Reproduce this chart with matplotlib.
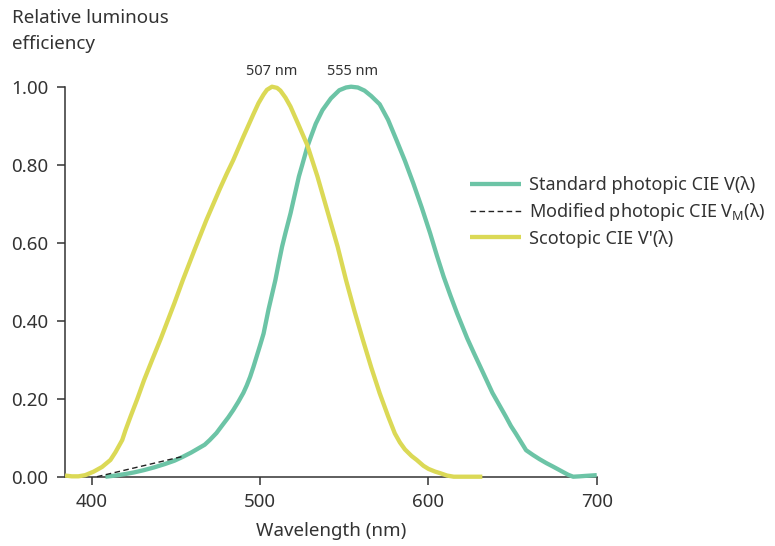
import matplotlib.pyplot as plt

plt.rcParams['font.family'] = ['Noto Sans', 'DejaVu Sans']

# CIE curves
wl_scotopic = [384, 388, 392, 396, 401, 406, 411, 414, 418, 420, 423, 427, 431,
               436, 441, 445, 449, 454, 461, 468, 476, 480, 484, 490, 496, 499,
               502, 504, 507, 510, 512, 515, 518, 523, 528, 534, 540, 546, 551,
               556, 561, 566, 571, 576, 580, 583, 586, 590, 593, 597, 600, 604,
               607, 611, 615, 632]
v_scotopic = [0.003, 0.001, 0.001, 0.004, 0.013, 0.025, 0.043, 0.063, 0.094, 0.12,
              0.155, 0.2, 0.248, 0.302, 0.355, 0.4, 0.445, 0.504, 0.582, 0.658,
              0.738, 0.776, 0.812, 0.872, 0.93, 0.958, 0.98, 0.992, 1.0, 0.997,
              0.99, 0.972, 0.949, 0.9, 0.85, 0.77, 0.68, 0.59, 0.504, 0.425, 0.351,
              0.28, 0.214, 0.155, 0.111, 0.088, 0.07, 0.053, 0.043, 0.028, 0.02,
              0.013, 0.009, 0.003, 0.0, 0.0]

wl_photopic = [408, 414, 420, 425, 431, 437, 443, 449, 454, 459, 463, 467, 470,
               474, 478, 481, 484, 487, 490, 492, 494, 496, 498, 500, 502, 505,
               507, 509, 511, 513, 515, 518, 520, 523, 525, 528, 530, 533, 537,
               542, 547, 551, 554, 558, 562, 566, 571, 576, 581, 586, 591, 596,
               601, 605, 609, 613, 617, 620, 623, 627, 631, 638, 646, 649, 652,
               655, 658, 662, 666, 670, 674, 677, 680, 683, 686, 690, 693, 700]
v_photopic = [0.0, 0.003, 0.007, 0.011, 0.017, 0.024, 0.032, 0.041, 0.051, 0.062,
              0.072, 0.082, 0.094, 0.112, 0.135, 0.152, 0.171, 0.192, 0.215,
              0.234, 0.256, 0.282, 0.31, 0.338, 0.367, 0.43, 0.467, 0.504, 0.548,
              0.59, 0.625, 0.675, 0.713, 0.77, 0.8, 0.846, 0.87, 0.905, 0.94, 0.97,
              0.991, 0.998, 1.0, 0.998, 0.99, 0.976, 0.955, 0.915, 0.863, 0.81,
              0.752, 0.69, 0.624, 0.567, 0.513, 0.465, 0.419, 0.387, 0.355, 0.317,
              0.28, 0.215, 0.154, 0.13, 0.11, 0.089, 0.068, 0.056, 0.045, 0.035,
              0.026, 0.019, 0.012, 0.005, 0.0, 0.001, 0.002, 0.004]

wl_modified = [403, 454]
v_modified = [0.0, 0.052]

peaks = [507, 555]
peak_labels = ['507 nm', '555 nm']

xticks = [400, 500, 600, 700]
yticks = [0.0, 0.2, 0.4, 0.6, 0.8, 1.0]

green = '#6cc4a6'
yellow = '#dbd956'
dark = '#333333'

fig = plt.figure(figsize=(7.75, 5.46), dpi=100)
ax = fig.add_axes([0.0839, 0.1269, 0.770 - 0.0839, 0.8412 - 0.1269])

ax.plot(wl_photopic, v_photopic, color=green, lw=3.1, solid_capstyle='butt',
        solid_joinstyle='round', clip_on=False,
        label='Standard photopic CIE V(λ)', zorder=3)
ax.plot(wl_modified, v_modified, color='#222222', lw=1.0, ls=(0, (4, 2.5)),
        clip_on=False, label='Modified photopic CIE V$_\\mathregular{M}$(λ)',
        zorder=4)
ax.plot(wl_scotopic, v_scotopic, color=yellow, lw=3.1, solid_capstyle='butt',
        solid_joinstyle='round', clip_on=False,
        label="Scotopic CIE V'(λ)", zorder=3)

for p, lab in zip(peaks, peak_labels):
    ax.text(p, 1.04, lab, ha='center', va='center', fontsize=10.5, color=dark)

ax.set_xlim(384, 700)
ax.set_ylim(0, 1)
ax.set_xticks(xticks)
ax.set_yticks(yticks)
ax.set_yticklabels([f'{v:.2f}' for v in yticks])
ax.tick_params(axis='both', direction='out', length=6, width=1.1, color=dark,
               labelsize=13.5, labelcolor=dark, pad=6)
for s in ['top', 'right']:
    ax.spines[s].set_visible(False)
for s in ['left', 'bottom']:
    ax.spines[s].set_color(dark)
    ax.spines[s].set_linewidth(1.1)

ax.set_xlabel('Wavelength (nm)', fontsize=13.5, color=dark, labelpad=8)
fig.text(12 / 775, 1 - 9 / 546, 'Relative luminous\nefficiency', ha='left',
         va='top', fontsize=13.5, color=dark, linespacing=1.55)

ax.legend(loc='upper left', bbox_to_anchor=(470 / 775, 1 - 176 / 546),
          bbox_transform=fig.transFigure, frameon=False, fontsize=13,
          handlelength=2.8, handletextpad=0.45, labelspacing=0.38,
          labelcolor=dark, borderaxespad=0, borderpad=0)

fig.savefig('out.png', dpi=100)
